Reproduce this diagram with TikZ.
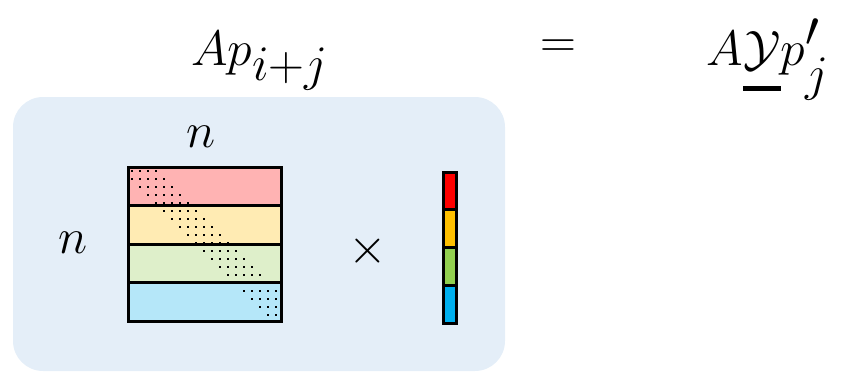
\documentclass[tikz,border=0pt]{standalone}
\usepackage{amsmath,amssymb}
\usepackage{tikz}
\definecolor{panelbg}{HTML}{E4EEF8}
\definecolor{rowred}{HTML}{FFB3B3}
\definecolor{rowyellow}{HTML}{FFEBB3}
\definecolor{rowgreen}{HTML}{DEEFCA}
\definecolor{rowblue}{HTML}{B5E7F9}
\definecolor{vecred}{HTML}{FF0000}
\definecolor{vecorange}{HTML}{FFC000}
\definecolor{vecgreen}{HTML}{92D050}
\definecolor{vecblue}{HTML}{00B0F0}
\newcommand{\barunder}[1]{\vtop{\hbox{$#1$}\kern8pt\hrule height 2.4pt}}
\tikzset{
    bigmath/.style={inner sep=0pt,font=\fontsize{30}{36}\selectfont},
    titlemath/.style={inner sep=0pt,font=\fontsize{34}{40}\selectfont},
    rowbox/.style={draw=black,line width=1.5pt},
}

\begin{document}
\begin{tikzpicture}[x=0.5pt,y=-0.5pt]
    \useasboundingbox (0,0) rectangle (848,371);
    % panel
    \fill[panelbg,rounded corners=15pt] (13,97) rectangle (505,371);
    % equation
    \node[titlemath,anchor=base] at(260,65)(lhs){$Ap_{i+j}$};
    \node[bigmath] at(558,49)(eq){$=$};
    \node[titlemath,anchor=base] at(768,65)(rhs){$A\barunder{\mathcal{Y}}p'_j$};
    % matrix rows
    \foreach \c [count=\k from 0] in {rowred,rowyellow,rowgreen,rowblue}
        \filldraw[rowbox,fill=\c] (128,167+38.5*\k) rectangle (281,205.5+38.5*\k);
    % diagonal dots
    \begin{scope}
        \clip (129,168) rectangle (280,320);
        \foreach \j in {0,...,18}
            \foreach \i in {0,...,4}
                \fill (123+8*\j+8*\i,170+8*\j) rectangle ++(1.6,1.6);
    \end{scope}
    \draw[line width=1.5pt] (128,167) rectangle (281,321);
    % labels
    \node[bigmath] at(201,137)(ncol){$n$};
    \node[bigmath] at(73,243)(nrow){$n$};
    \node[bigmath] at(368,251)(times){$\times$};
    % vector
    \foreach \c [count=\k from 0] in {vecred,vecorange,vecgreen,vecblue}
        \filldraw[rowbox,fill=\c] (443,172+37.75*\k) rectangle (456,209.75+37.75*\k);
\end{tikzpicture}
\end{document}
